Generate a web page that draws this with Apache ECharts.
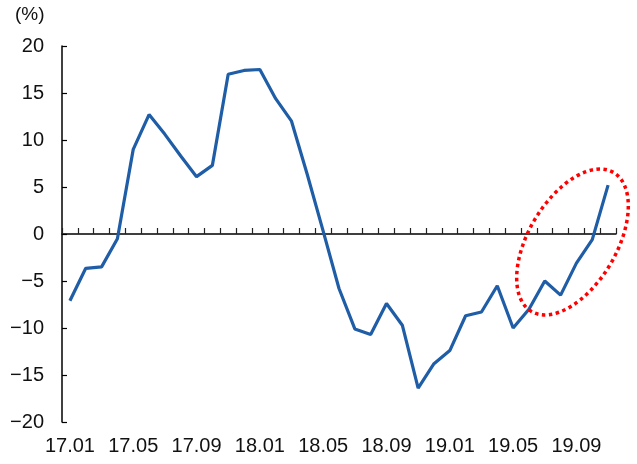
<!DOCTYPE html>
<html>
<head>
<meta charset="utf-8">
<script src="https://cdn.jsdelivr.net/npm/echarts@6/dist/echarts.min.js"></script>
<style>
html,body{margin:0;padding:0;background:#fff;}
#chart{width:637px;height:464px;}
</style>
</head>
<body>
<div id="chart"></div>
<script>
var categories = ['17.01','17.02','17.03','17.04','17.05','17.06','17.07','17.08','17.09','17.10','17.11','17.12',
  '18.01','18.02','18.03','18.04','18.05','18.06','18.07','18.08','18.09','18.10','18.11','18.12',
  '19.01','19.02','19.03','19.04','19.05','19.06','19.07','19.08','19.09','19.10','19.11'];
var values = [-7.1,-3.65,-3.5,-0.5,9.0,12.7,10.6,8.3,6.1,7.3,17.0,17.4,
  17.5,14.4,12.0,6.3,0.3,-5.8,-10.1,-10.7,-7.4,-9.7,-16.4,-13.8,
  -12.4,-8.7,-8.3,-5.5,-10.0,-8.0,-5.0,-6.5,-3.1,-0.6,5.2];
var yMin = -20, yMax = 20, yStep = 5;
var unitLabel = '(%)';

var FONT = '"Liberation Sans", Arial, sans-serif';
var chart = echarts.init(document.getElementById('chart'));
var fmt = function (v) { return v < 0 ? '\u2212' + Math.abs(v) : String(v); };
chart.setOption({
  animation: false,
  backgroundColor: '#ffffff',
  grid: { left: 62, right: 21, top: 46, bottom: 42, containLabel: false },
  xAxis: [{
    type: 'category',
    data: categories,
    position: 'bottom',
    boundaryGap: true,
    axisLine: { onZero: true, lineStyle: { color: '#000', width: 1.5 } },
    axisTick: { show: true, inside: true, length: 6, interval: 0, lineStyle: { color: '#222', width: 1.2 } },
    axisLabel: { show: false },
    splitLine: { show: false }
  }, {
    type: 'category',
    data: categories,
    position: 'bottom',
    boundaryGap: true,
    axisLine: { show: false, onZero: false },
    axisTick: { show: false },
    axisLabel: { show: true, interval: 3, margin: 14, color: '#111', fontSize: 20, fontFamily: FONT },
    splitLine: { show: false }
  }],
  yAxis: {
    type: 'value',
    min: yMin, max: yMax, interval: yStep,
    axisLine: { show: true, lineStyle: { color: '#000', width: 1.5 } },
    axisTick: { show: true, inside: true, length: 5, lineStyle: { color: '#000', width: 1.2 } },
    axisLabel: { margin: 18, color: '#111', fontSize: 20, fontFamily: FONT, formatter: fmt },
    splitLine: { show: false }
  },
  graphic: [{
    type: 'text',
    left: 15, top: 5,
    style: { text: unitLabel, fontSize: 19, fontFamily: FONT, fill: '#111' }
  }, {
    type: 'ellipse',
    x: 572.5, y: 242,
    rotation: 59.4 * Math.PI / 180,
    shape: { cx: 0, cy: 0, rx: 80.7, ry: 43.9 },
    style: { fill: 'none', stroke: '#ff0000', lineWidth: 3.5, lineDash: [3.5, 3.5] },
    z: 100
  }],
  series: [{
    type: 'line',
    xAxisIndex: 0,
    data: values,
    symbol: 'none',
    lineStyle: { color: '#1f5da6', width: 3.2 },
    z: 5
  }]
});
</script>
</body>
</html>
